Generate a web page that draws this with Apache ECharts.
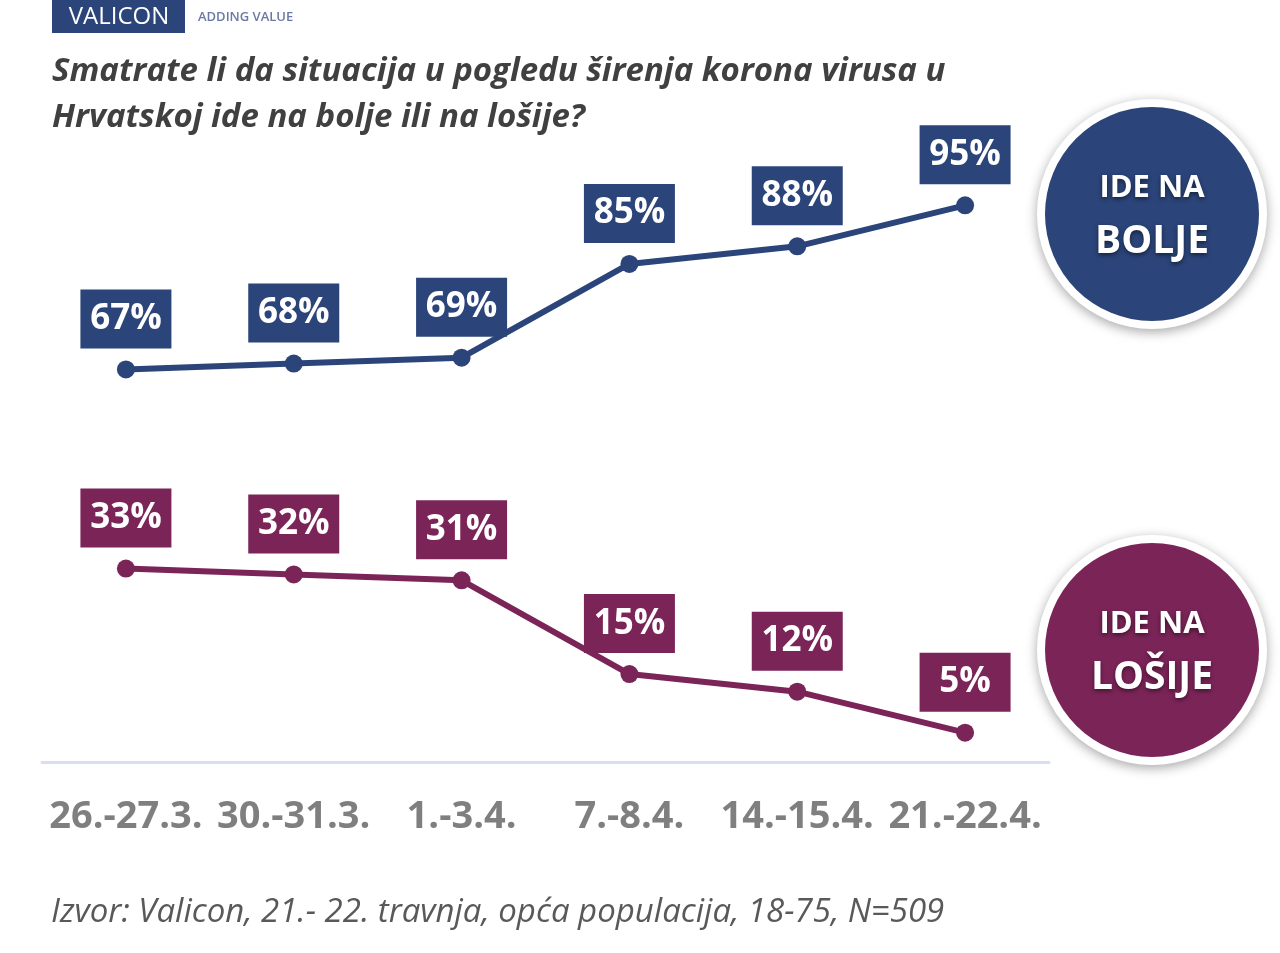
<!DOCTYPE html>
<html>
<head>
<meta charset="utf-8">
<script src="https://cdn.jsdelivr.net/npm/echarts@6/dist/echarts.min.js"></script>
<style>
html,body{margin:0;padding:0;background:#fff;}
#c{width:1280px;height:953px;}
</style>
</head>
<body>
<div id="c"></div>
<script>
const categories = ['26.-27.3.', '30.-31.3.', '1.-3.4.', '7.-8.4.', '14.-15.4.', '21.-22.4.'];
const boljeValues = [67, 68, 69, 85, 88, 95];
const losijeValues = [33, 32, 31, 15, 12, 5];
const boljeName = 'IDE NA BOLJE';
const losijeName = 'IDE NA LOŠIJE';

const BLUE = '#2b4479';
const PINK = '#7b2458';
const FONT = "'Liberation Sans Narrow', 'Open Sans', 'Noto Sans', sans-serif";
const LFONT = "'Open Sans', 'Noto Sans', sans-serif";

const chart = echarts.init(document.getElementById('c'));

function lineSeries(name, data, color) {
  return {
    name: name,
    type: 'line',
    data: data,
    symbol: 'circle',
    symbolSize: 18,
    lineStyle: {color: color, width: 6},
    itemStyle: {color: color},
    label: {
      show: true,
      position: 'top',
      distance: 12,
      formatter: '{c}%',
      color: '#fff',
      backgroundColor: color,
      fontFamily: LFONT,
      fontWeight: 'bold',
      fontSize: 35,
      lineHeight: 43,
      padding: [8, 9, 8, 9],
      width: 73,
      align: 'center'
    },
    z: 3
  };
}

chart.setOption({
  animation: false,
  title: [
    {
      text: 'Smatrate li da situacija u pogledu širenja korona virusa u\nHrvatskoj ide na bolje ili na lošije?',
      left: 47, top: 44,
      textStyle: {fontFamily: LFONT, fontStyle: 'italic', fontWeight: 'bold', fontSize: 33, lineHeight: 46, color: '#404040'}
    },
    {
      text: 'Izvor: Valicon, 21.- 22. travnja, opća populacija, 18-75, N=509',
      left: 46, top: 891,
      textStyle: {fontFamily: LFONT, fontStyle: 'italic', fontWeight: 'normal', fontSize: 33, color: '#595959'}
    }
  ],
  grid: {left: 42, right: 231, top: 176, bottom: 191, containLabel: false},
  xAxis: {
    type: 'category',
    data: categories,
    boundaryGap: true,
    axisLine: {show: true, lineStyle: {color: '#d6e0f1', width: 3}},
    axisTick: {show: false},
    axisLabel: {
      margin: 36,
      color: '#7f7f7f',
      fontFamily: FONT,
      fontWeight: 'bold',
      fontSize: 38,
      interval: 0
    }
  },
  yAxis: {
    type: 'value', min: 0, max: 100,
    show: false,
    splitLine: {show: false}
  },
  series: [
    lineSeries(boljeName, boljeValues, BLUE),
    lineSeries(losijeName, losijeValues, PINK)
  ],
  graphic: [
    {type: 'rect', shape: {x: 52, y: 0, width: 133, height: 33}, style: {fill: BLUE}},
    {type: 'text', x: 119, y: 17, style: {text: 'VALICON', fill: '#fff', font: "24px 'Open Sans', sans-serif", align: 'center', verticalAlign: 'middle'}},
    {type: 'text', x: 198, y: 17, style: {text: 'ADDING VALUE', fill: '#6a7aa4', font: "600 13px 'Open Sans', sans-serif", align: 'left', verticalAlign: 'middle'}},

    {type: 'circle', shape: {cx: 1152, cy: 214, r: 115}, style: {fill: '#fff', shadowBlur: 12, shadowColor: 'rgba(0,0,0,0.35)', shadowOffsetY: 3}},
    {type: 'circle', shape: {cx: 1152, cy: 214, r: 107}, style: {fill: BLUE}},
    {type: 'text', x: 1152, y: 188, style: {text: 'IDE NA', fill: '#fff', font: "bold 31px " + FONT, align: 'center', verticalAlign: 'middle', textShadowBlur: 4, textShadowColor: 'rgba(0,0,0,0.5)', textShadowOffsetY: 2}},
    {type: 'text', x: 1152, y: 242, style: {text: 'BOLJE', fill: '#fff', font: "bold 39px " + FONT, align: 'center', verticalAlign: 'middle', textShadowBlur: 4, textShadowColor: 'rgba(0,0,0,0.5)', textShadowOffsetY: 2}},

    {type: 'circle', shape: {cx: 1152, cy: 650, r: 115}, style: {fill: '#fff', shadowBlur: 12, shadowColor: 'rgba(0,0,0,0.35)', shadowOffsetY: 3}},
    {type: 'circle', shape: {cx: 1152, cy: 650, r: 107}, style: {fill: PINK}},
    {type: 'text', x: 1152, y: 624, style: {text: 'IDE NA', fill: '#fff', font: "bold 31px " + FONT, align: 'center', verticalAlign: 'middle', textShadowBlur: 4, textShadowColor: 'rgba(0,0,0,0.5)', textShadowOffsetY: 2}},
    {type: 'text', x: 1152, y: 678, style: {text: 'LOŠIJE', fill: '#fff', font: "bold 39px " + FONT, align: 'center', verticalAlign: 'middle', textShadowBlur: 4, textShadowColor: 'rgba(0,0,0,0.5)', textShadowOffsetY: 2}}
  ]
});
</script>
</body>
</html>
